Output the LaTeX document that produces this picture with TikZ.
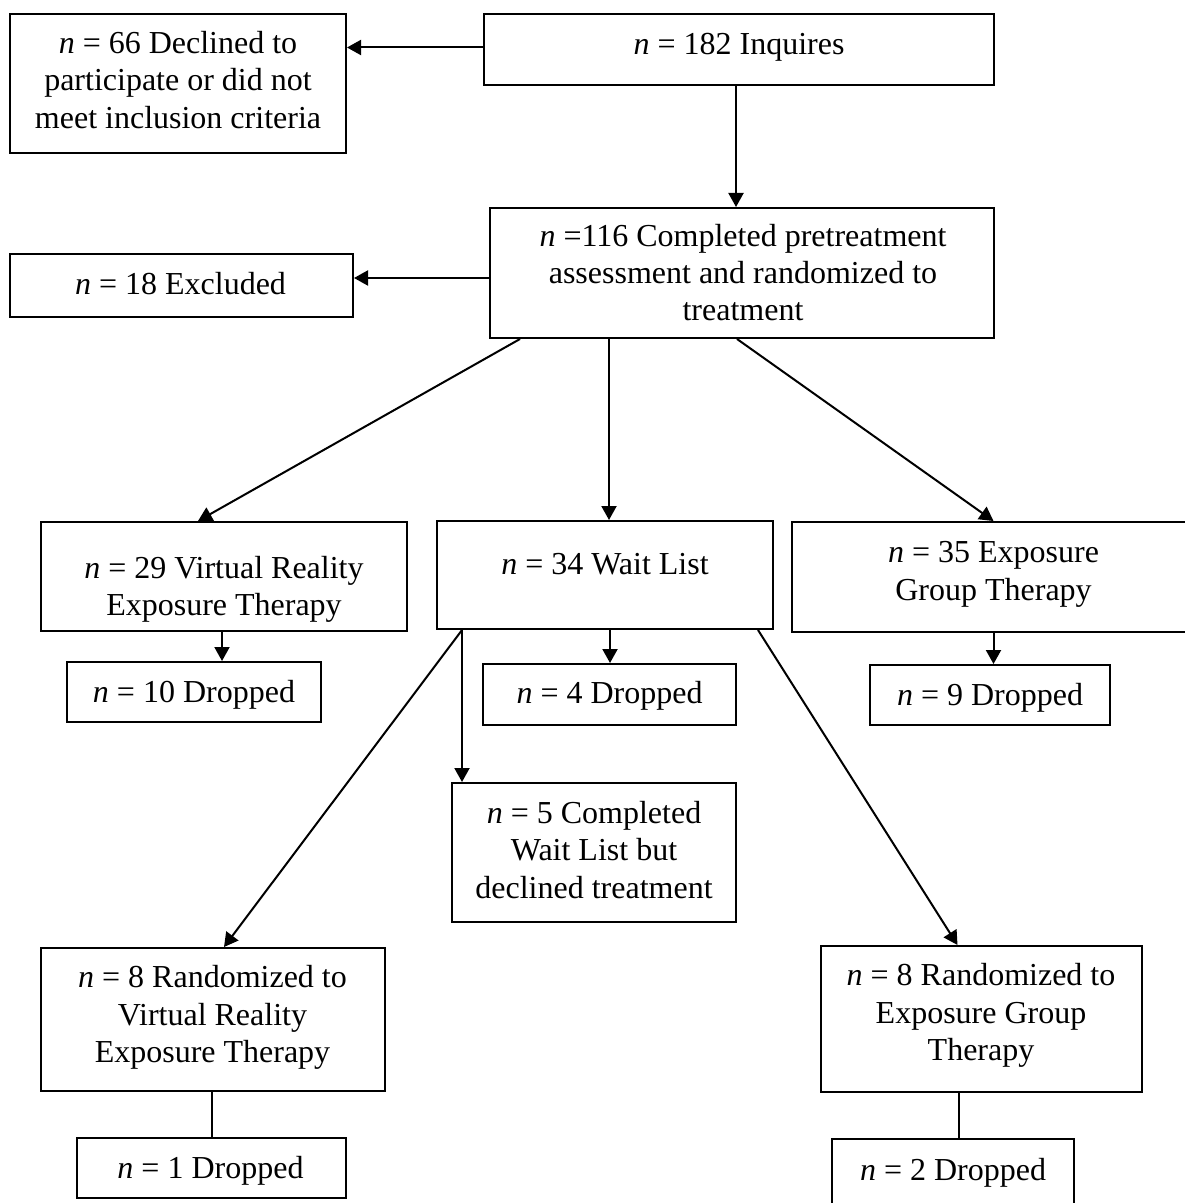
\documentclass[tikz,border=0pt]{standalone}
\usepackage{fontspec}
\setmainfont{Liberation Serif}
\usetikzlibrary{arrows.meta,calc}
\newcommand{\vn}{\textit{n}}
\begin{document}
\begin{tikzpicture}[x=0.5pt,y=-0.5pt,
  box/.style={draw=black, line width=1pt, rectangle, inner sep=0pt},
  txt/.style={align=center, inner sep=0pt, font=\fontsize{16pt}{18.65pt}\selectfont},
  arr/.style={line width=1pt, -{Triangle[length=7pt,width=7.5pt]}},
  link/.style={line width=1pt}]
\useasboundingbox (0,0) rectangle (1184,1203);

% boxes
\node[box, minimum width=168pt,   minimum height=69.5pt] (b66)  at (178,83.5)   {};
\node[box, minimum width=255pt,   minimum height=35.5pt] (b182) at (739,49.5)   {};
\node[box, minimum width=252pt,   minimum height=65pt]   (b116) at (742,273)    {};
\node[box, minimum width=171.5pt, minimum height=31.5pt] (b18)  at (181.5,285.5){};
\node[box, minimum width=183pt,   minimum height=54.5pt] (bVR)  at (224,576.5)  {};
\node[box, minimum width=168pt,   minimum height=54pt]   (bWL)  at (605,575)    {};
\node[box, minimum width=201.5pt, minimum height=55pt]   (bEX)  at (993.5,577)  {};
\node[box, minimum width=127pt,   minimum height=30pt]   (d10)  at (194,692)    {};
\node[box, minimum width=126.5pt, minimum height=30.5pt] (d4)   at (609.5,694.5){};
\node[box, minimum width=120pt,   minimum height=30pt]   (d9)   at (990,695)    {};
\node[box, minimum width=142pt,   minimum height=69.5pt] (c5)   at (594,852.5)  {};
\node[box, minimum width=172pt,   minimum height=71.5pt] (r8a)  at (213,1019.5) {};
\node[box, minimum width=160.5pt, minimum height=73pt]   (r8b)  at (981.5,1019) {};
\node[box, minimum width=134.5pt, minimum height=30pt]   (d1)   at (211.5,1168) {};
\node[box, minimum width=121pt,   minimum height=34pt]   (d2)   at (953,1173)   {};

% texts
\node[txt] (t66)  at (178,80)      {\vn{} = 66 Declined to\\participate or did not\\meet inclusion criteria};
\node[txt] (t182) at (739,47.5)    {\vn{} = 182 Inquires};
\node[txt] (t116) at (743,272.5)   {\vn{} =116 Completed pretreatment\\assessment and randomized to\\treatment};
\node[txt] (t18)  at (180.5,284)   {\vn{} = 18 Excluded};
\node[txt] (tVR)  at (224,589)     {\vn{} = 29 Virtual Reality\\Exposure Therapy};
\node[txt] (tWL)  at (605,564)     {\vn{} = 34 Wait List};
\node[txt] (tEX)  at (993.5,574.5) {\vn{} = 35 Exposure\\Group Therapy};
\node[txt] (t10)  at (194,694.5)   {\vn{} = 10 Dropped};
\node[txt] (t4)   at (609.5,696)   {\vn{} = 4 Dropped};
\node[txt] (t9)   at (990,698)     {\vn{} = 9 Dropped};
\node[txt] (t5)   at (594,850)     {\vn{} = 5 Completed\\Wait List but\\declined treatment};
\node[txt] (tR8a) at (212.5,1017.5){\vn{} = 8 Randomized to\\Virtual Reality\\Exposure Therapy};
\node[txt] (tR8b) at (981,1015.5)  {\vn{} = 8 Randomized to\\Exposure Group\\Therapy};
\node[txt] (t1)   at (210.5,1170.5){\vn{} = 1 Dropped};
\node[txt] (t2)   at (953,1172.5)  {\vn{} = 2 Dropped};

% connectors
\draw[arr] ([yshift=1pt]b182.west) -- ([yshift=1pt]b182.west -| b66.east);
\draw[arr] ([xshift=-1.5pt]b182.south) -- ([xshift=-1.5pt]b182.south |- b116.north);
\draw[arr] ([yshift=-2.5pt]b116.west) -- ([yshift=-2.5pt]b116.west -| b18.east);
\coordinate (s1) at ($(b116.south west)+(31,0)$);
\coordinate (s2) at ($(b116.south west)+(120,0)$);
\coordinate (s3) at ($(b116.south east)+(-258,0)$);
\draw[arr] (s1) -- ($(bVR.north)+(-26,0)$);
\draw[arr] (s2) -- (s2 |- bWL.north);
\draw[arr] (s3) -- (bEX.north);
\draw[arr] ([xshift=-1pt]bVR.south) -- ([xshift=-1pt]bVR.south |- d10.north);
\draw[arr] ([xshift=2.5pt]bWL.south) -- ([xshift=2.5pt]bWL.south |- d4.north);
\draw[arr] (bEX.south) -- (bEX.south |- d9.north);
\coordinate (w1) at ($(bWL.south west)+(26,0)$);
\coordinate (w2) at ($(bWL.south east)+(-16,0)$);
\draw[arr] (w1) -- (w1 |- c5.north);
\draw[arr] (w1) -- ($(r8a.north)+(11,0)$);
\draw[arr] (w2) -- ($(r8b.north)+(-24,0)$);
\draw[link] ([xshift=-0.5pt]r8a.south) -- ([xshift=-0.5pt]r8a.south |- d1.north);
\draw[link] ([xshift=-11.25pt]r8b.south) -- ([xshift=-11.25pt]r8b.south |- d2.north);
\end{tikzpicture}
\end{document}
